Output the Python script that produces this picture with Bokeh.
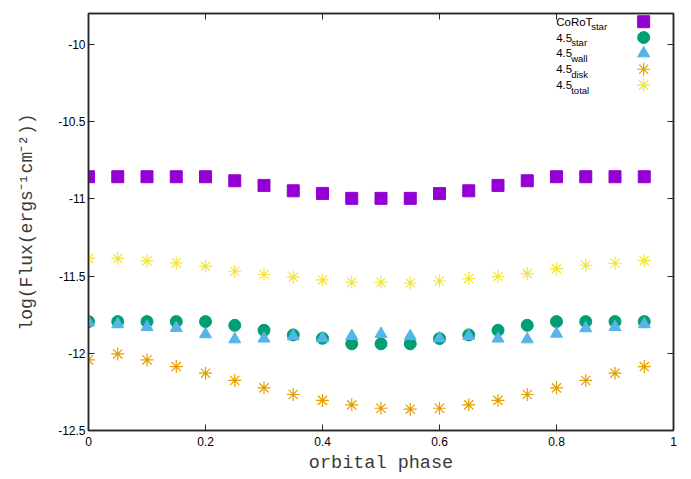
from bokeh.plotting import figure
from bokeh.models import Range1d, LinearAxis, FixedTicker, ColumnDataSource
from bokeh.embed import file_html
from bokeh.resources import INLINE
from bokeh.core.properties import value

# ---------------- data ----------------
phase = [0.0, 0.05, 0.1, 0.15, 0.2, 0.25, 0.3, 0.35, 0.4, 0.45,
         0.5, 0.55, 0.6, 0.65, 0.7, 0.75, 0.8, 0.85, 0.9, 0.95]
corot_star = [-10.857, -10.857, -10.857, -10.857, -10.857, -10.883, -10.913, -10.948, -10.965, -10.997,
              -10.997, -10.997, -10.966, -10.948, -10.913, -10.883, -10.857, -10.857, -10.857, -10.857]
flux_star = [-11.795, -11.795, -11.795, -11.795, -11.795, -11.819, -11.851, -11.881, -11.903, -11.939,
             -11.939, -11.939, -11.905, -11.881, -11.851, -11.819, -11.795, -11.795, -11.795, -11.795]
flux_wall = [-11.800, -11.812, -11.830, -11.836, -11.877, -11.910, -11.905, -11.890, -11.903, -11.888,
             -11.875, -11.889, -11.903, -11.888, -11.905, -11.910, -11.873, -11.838, -11.830, -11.812]
flux_disk = [-12.043, -12.004, -12.043, -12.086, -12.129, -12.176, -12.224, -12.267, -12.305, -12.334,
             -12.356, -12.362, -12.356, -12.334, -12.305, -12.267, -12.224, -12.176, -12.129, -12.086]
flux_total = [-11.386, -11.386, -11.402, -11.415, -11.437, -11.469, -11.490, -11.507, -11.525, -11.540,
              -11.540, -11.545, -11.532, -11.516, -11.503, -11.484, -11.452, -11.430, -11.417, -11.400]

x_ticks = [0, 0.2, 0.4, 0.6, 0.8, 1]
x_tick_labels = ["0", "0.2", "0.4", "0.6", "0.8", "1"]
y_ticks = [-12.5, -12, -11.5, -11, -10.5, -10]
y_tick_labels = ["-12.5", "-12", "-11.5", "-11", "-10.5", "-10"]

legend_main = ["CoRoT", "4.5", "4.5", "4.5", "4.5"]
legend_sub = ["star", "star", "wall", "disk", "total"]

# ---------------- styles ----------------
C_COROT = "#9400D3"
C_STAR = "#009E73"
C_WALL = "#56B4E9"
C_DISK = "#E69F00"
C_TOTAL = "#F0E442"
FRAME = "#262626"

p = figure(width=683, height=478, output_backend="svg", toolbar_location=None,
           x_range=Range1d(0, 1), y_range=Range1d(-12.5, -9.8),
           min_border_left=88, min_border_right=10, min_border_top=13, min_border_bottom=48,
           background_fill_color="white", border_fill_color="white")
p.grid.visible = False
p.outline_line_color = FRAME
p.outline_line_width = 1.5

def style_axis(ax, show_labels=True):
    ax.axis_line_color = FRAME
    ax.axis_line_width = 1.5
    ax.major_tick_line_color = FRAME
    ax.major_tick_line_width = 1
    ax.major_tick_in = 6
    ax.major_tick_out = 0
    ax.minor_tick_line_color = None
    if show_labels:
        ax.major_label_text_font = "Liberation Sans"
        ax.major_label_text_font_size = "12px"
        ax.major_label_text_color = "black"
    else:
        ax.major_label_text_color = None
        ax.major_label_text_font_size = "0px"
        ax.major_label_standoff = 0

xa = p.xaxis[0]
xa.ticker = FixedTicker(ticks=x_ticks)
xa.major_label_overrides = dict(zip(x_ticks, x_tick_labels))
style_axis(xa)
xa.major_label_standoff = 6
xa.axis_label = "orbital phase"
xa.axis_label_text_font = "Liberation Mono"
xa.axis_label_text_font_style = "normal"
xa.axis_label_text_font_size = "18.5px"
xa.axis_label_text_color = "#3a3a3a"
xa.axis_label_standoff = 4

ya = p.yaxis[0]
ya.ticker = FixedTicker(ticks=y_ticks)
ya.major_label_overrides = dict(zip(y_ticks, y_tick_labels))
style_axis(ya)
ya.major_label_standoff = 3
ya.axis_label = "log(Flux(ergs\u207b\u00b9cm\u207b\u00b2))"
ya.axis_label_text_font = "Liberation Mono"
ya.axis_label_text_font_style = "normal"
ya.axis_label_text_font_size = "18px"
ya.axis_label_text_color = "#3a3a3a"
ya.axis_label_standoff = 18

top = LinearAxis(ticker=FixedTicker(ticks=x_ticks))
style_axis(top, show_labels=False)
p.add_layout(top, "above")
right = LinearAxis(ticker=FixedTicker(ticks=y_ticks))
style_axis(right, show_labels=False)
p.add_layout(right, "right")

# ---------------- series ----------------
p.scatter(phase, corot_star, marker="square", size=12, fill_color=C_COROT, line_color=C_COROT)
p.scatter(phase, flux_star, marker="circle", size=12, fill_color=C_STAR, line_color=C_STAR)
p.scatter(phase, flux_wall, marker="triangle", size=12, fill_color=C_WALL, line_color=C_WALL)
p.scatter(phase, flux_disk, marker="asterisk", size=13, line_color=C_DISK, line_width=1.2)
p.scatter(phase, flux_total, marker="asterisk", size=13, line_color=C_TOTAL, line_width=1.2)

# ---------------- key (gnuplot style: text left, symbol right) ----------------
key_top = -9.853
key_step = 0.1027
key_y = [key_top - i * key_step for i in range(len(legend_main))]
key_text_x = 0.7995
key_sym_x = 0.949
sub_dx = [35 if m == "CoRoT" else 15 for m in legend_main]
key_src = ColumnDataSource(dict(x=[key_text_x] * 5, y=key_y, main=legend_main,
                                sub=legend_sub, dx=sub_dx))
p.text(x="x", y="y", text="main", source=key_src, text_font=value("Liberation Sans"),
       text_font_size="11.5px", text_baseline="middle", text_align="left", text_color="black")
p.text(x="x", y="y", text="sub", source=key_src, x_offset="dx", y_offset=5,
       text_font=value("Liberation Sans"), text_font_size="9.5px", text_baseline="middle",
       text_align="left", text_color="black")
key_colors = [C_COROT, C_STAR, C_WALL, C_DISK, C_TOTAL]
key_markers = ["square", "circle", "triangle", "asterisk", "asterisk"]
for i in range(5):
    if key_markers[i] == "asterisk":
        p.scatter([key_sym_x], [key_y[i]], marker="asterisk", size=13, line_color=key_colors[i], line_width=1.2)
    else:
        p.scatter([key_sym_x], [key_y[i]], marker=key_markers[i], size=12,
                  fill_color=key_colors[i], line_color=key_colors[i])

open("out.html", "w").write(file_html(p, INLINE))
